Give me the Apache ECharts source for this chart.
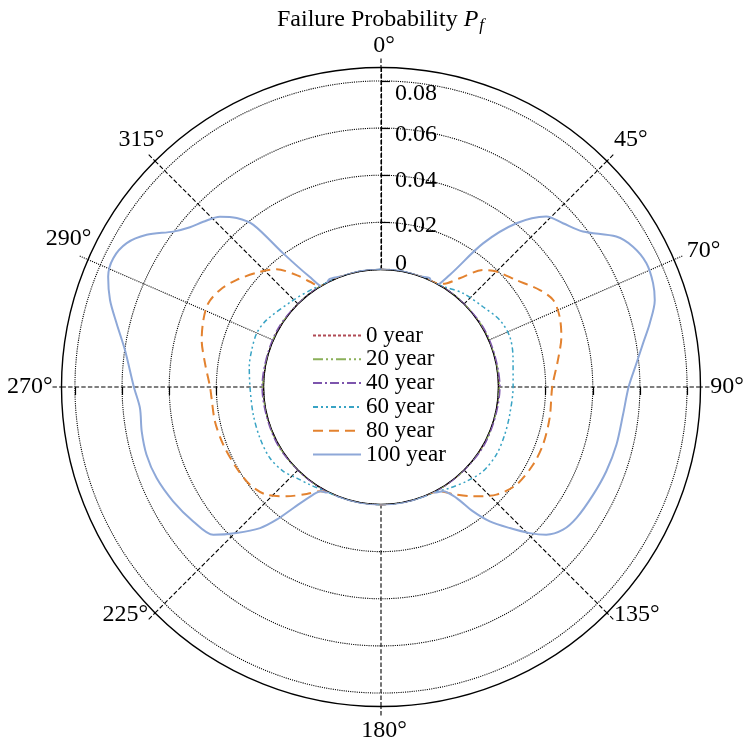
<!DOCTYPE html>
<html>
<head>
<meta charset="utf-8">
<script src="https://cdn.jsdelivr.net/npm/echarts@6/dist/echarts.min.js"></script>
<style>
html, body { margin: 0; padding: 0; background: #fff; }
#chart { width: 746px; height: 744px; }
</style>
</head>
<body>
<div id="chart"></div>
<script>
// Failure probability around the section, [angle in degrees, Pf]
const year0 = [[0,0],[30,0],[60,0],[90,0],[120,0],[150,0],[180,0],[210,0],[240,0],[270,0],[300,0],[330,0],[360,0]];
const year20 = [[0,0],[30,0],[60,0.0002],[90,0.0003],[120,0.0002],[150,0],[180,0],[210,0],[240,0.0002],[270,0.0003],[300,0.0002],[330,0],[360,0]];
const year40 = [[0,0],[30,0],[60,0.0004],[90,0.0006],[120,0.0004],[150,0.0001],[180,0],[210,0.0001],[240,0.0004],[270,0.0006],[300,0.0004],[330,0],[360,0]];
const year60 = [[0,0],[20,0],[30,0],[33,0.0006],[41.2,0.003],[51.8,0.0052],[60.6,0.008],[68.7,0.0088],[77.1,0.0076],[90,0.0062],
  [102.1,0.006],[111.1,0.0064],[120.4,0.0069],[129.6,0.0063],[137.9,0.0041],[145.8,0.002],[152,0.0004],[160,0],[180,0],
  [200,0],[208,0.0002],[216,0.0014],[222.8,0.0028],[229.2,0.0049],[237.4,0.0061],[247.1,0.0059],[257.8,0.0056],[269.5,0.0057],
  [278.8,0.0067],[286,0.0072],[293.4,0.0076],[300.4,0.0064],[314.8,0.0025],[325.6,0.0008],[332,0],[340,0],[360,0]];
const year80 = [[0,0],[20,0],[28,0],[31,0.0012],[35.9,0.0071],[41.1,0.016],[45,0.0194],[51.7,0.0233],[58.6,0.0291],[63.2,0.032],
  [68.5,0.0316],[74.4,0.0296],[81.3,0.0261],[90,0.0228],[100.4,0.0229],[109.6,0.0231],[117.1,0.0226],[125.8,0.021],[133,0.0171],
  [139.9,0.0108],[146.1,0.0049],[150,0.0013],[154,0],[180,0],[206,0],[210.3,0.0014],[214.8,0.0054],[220.8,0.0114],[226.7,0.0168],
  [233.3,0.0195],[240.7,0.0204],[249.9,0.0214],[258.3,0.0221],[266.3,0.0222],[270.1,0.0227],[277.7,0.0255],[284.7,0.0288],
  [290.7,0.0307],[295.9,0.0316],[301.1,0.0299],[306.6,0.0264],[313.6,0.021],[318.4,0.0169],[323,0.0096],[326,0.004],[329,0],[340,0],[360,0]];
const year100 = [[0,0],[10,0],[20,0],[24,0.0008],[27.5,-0.0022],[31.5,0.0059],[35.4,0.0249],[39.6,0.0403],[44.1,0.0509],[48,0.054],
  [52.4,0.0583],[57.4,0.0686],[60.9,0.0725],[65,0.0744],[69.1,0.0737],[72.4,0.072],[76.7,0.0673],[80.5,0.0629],[84.7,0.059],[90,0.0552],
  [96.5,0.0535],[103.8,0.053],[110.5,0.0522],[116.9,0.0511],[123.8,0.05],[128.1,0.0483],[131.8,0.0442],[134.5,0.0386],[137.6,0.0312],
  [141,0.0235],[143.5,0.0158],[145.8,0.007],[149.3,0.0016],[152.4,0.0006],[155,-0.0006],[158,0],[170,0],[180,0],[190,0],[202,0],
  [205,-0.0006],[207.6,0.0006],[210,0.0012],[212.2,0.0041],[215.9,0.0135],[218.2,0.0218],[220.6,0.029],[224.7,0.0373],[228.6,0.045],
  [234.4,0.0481],[241.2,0.0508],[247.9,0.0529],[253.9,0.0537],[259.5,0.0534],[265,0.0528],[270,0.055],[278.2,0.0599],[283.5,0.0655],
  [287.8,0.0709],[292,0.075],[295.7,0.0762],[299.5,0.0741],[303,0.0687],[306.8,0.0602],[309.9,0.0558],[312.9,0.0531],[316.6,0.0496],
  [319.5,0.0444],[321.8,0.0377],[323.8,0.0204],[327,0.006],[330.5,-0.0018],[334,0.0008],[340,0],[350,0],[360,0]];

const seriesNames = ['0 year', '20 year', '40 year', '60 year', '80 year', '100 year'];
const seriesData = [year0, year20, year40, year60, year80, year100];
const seriesColors = ['#b04a55', '#8bb05a', '#7d55ad', '#38a3c4', '#e3822f', '#8ea8d8'];
const seriesDash = [[3, 2], [10, 3, 2, 3, 2, 3], [9, 3, 2, 3], [5, 3, 2, 3, 2, 3], [10, 6], 'solid'];
const seriesWidth = [1.4, 1.5, 1.5, 1.5, 2, 2];

// Radial ticks and their labels
const radialTicks = [0, 0.02, 0.04, 0.06, 0.08];
const radialText = ['0', '0.02', '0.04', '0.06', '0.08'];
const radialMax = 0.0857;
// Angular gridlines and the text printed at each of them
const mainSpokes = [0, 45, 90, 135, 180, 225, 270, 315];
const minorSpokes = [66.5, 293.5];
const spokeAngles = [0, 45, 66.5, 90, 135, 180, 225, 270, 293.5, 315];
const spokeText = ['0°', '45°', '70°', '90°', '135°', '180°', '225°', '270°', '290°', '315°'];

const serif = 'Liberation Serif';
const center = [381, 387];
const ring = [117.5, 319.5];
const labelRadius = 0.097;
// small nudges for the angular labels
const spokeLabelOffset = [[3, 5], [5, -3], [5, 2], [0, 0], [11, -17], [3, -2], [-11, -17], [-5, 0], [5, -10], [5, -3]];
// nudges for the radial labels, placed beside the 0° axis
const radialLabelOffset = [[14, -6], [14, 3], [14, 5], [14, 7], [14, 13]];

const blankAngle = (idx, start) => ({
  polarIndex: idx, type: 'value', min: 0, max: 360, startAngle: start, clockwise: true,
  axisLine: { show: false }, axisTick: { show: false }, axisLabel: { show: false }, splitLine: { show: false }
});
const sideTicks = (idx, len) => ({
  polarIndex: idx, type: 'value', min: 0, max: radialMax,
  axisLine: { show: false },
  axisTick: { show: true, customValues: radialTicks, length: len, lineStyle: { color: '#000', width: 1.2 } },
  axisLabel: { show: false },
  splitLine: { show: false }
});

const chart = echarts.init(document.getElementById('chart'), null, { renderer: 'canvas' });

const lineSeries = seriesData.map((d, i) => ({
  name: seriesNames[i],
  type: 'line',
  coordinateSystem: 'polar',
  polarIndex: 0,
  data: d.map(p => [p[1], p[0]]),
  symbol: 'none',
  smooth: 0.3,
  clip: false,
  color: seriesColors[i],
  lineStyle: { color: seriesColors[i], width: seriesWidth[i], type: seriesDash[i] },
  z: 2 + i
}));

// text placed through the polar scales: angular labels and radial labels
const textSeries = (items, align) => ({
  type: 'scatter',
  coordinateSystem: 'polar',
  polarIndex: 0,
  silent: true,
  clip: false,
  symbolSize: 0,
  itemStyle: { opacity: 1 },
  data: items,
  label: {
    show: true, position: [0, 0], align: align, verticalAlign: 'middle',
    formatter: '{b}', fontFamily: serif, fontSize: 24, color: '#000', opacity: 1,
    textBorderWidth: 0
  },
  z: 10
});

const angleLabelSeries = textSeries(spokeAngles.map((a, i) => ({
  name: spokeText[i], value: [labelRadius, a], label: { offset: spokeLabelOffset[i] }
})), 'center');

const radialLabelSeries = textSeries(radialTicks.map((v, i) => ({
  name: radialText[i], value: [v, 0], label: { offset: radialLabelOffset[i] }
})), 'left');

chart.setOption({
  backgroundColor: '#fff',
  animation: false,
  title: {
    text: 'Failure Probability {p|P}{f|f}',
    left: 272,
    top: 1,
    textStyle: {
      fontFamily: serif, fontSize: 24, fontWeight: 'normal', color: '#000',
      rich: {
        p: { fontFamily: serif, fontSize: 24, fontStyle: 'italic', color: '#000' },
        f: { fontFamily: serif, fontSize: 17, fontStyle: 'italic', color: '#000', padding: [11, 0, 0, 1] }
      }
    }
  },
  legend: {
    orient: 'vertical',
    left: 312,
    top: 324,
    padding: 0,
    itemWidth: 48,
    itemHeight: 14,
    itemGap: 0.8,
    itemStyle: { opacity: 0 },
    textStyle: { fontFamily: serif, fontSize: 23, lineHeight: 23, color: '#000' },
    data: seriesNames
  },
  polar: [
    { center: center, radius: ring },
    { center: center, radius: ring },
    { center: center, radius: ring },
    { center: center, radius: ring }
  ],
  angleAxis: [
    {
      polarIndex: 0,
      type: 'value', min: 0, max: 360, startAngle: 90, clockwise: true,
      axisLine: { show: true, lineStyle: { color: '#000', width: 1.4 } },
      axisTick: { show: true, customValues: mainSpokes, length: 9, lineStyle: { color: '#000', type: 'dashed', width: 1.1 } },
      axisLabel: { show: false },
      splitLine: { show: true, lineStyle: { color: '#000', type: 'dashed', width: 1.1 } }
    },
    {
      polarIndex: 1,
      type: 'value', min: 0, max: 360, startAngle: 90, clockwise: true,
      axisLine: { show: false },
      axisTick: { show: true, customValues: minorSpokes, length: 9, lineStyle: { color: '#000', type: 'dotted', width: 1.1 } },
      axisLabel: { show: false },
      splitLine: { show: true, lineStyle: { color: '#000', type: 'dotted', width: 1.1 } }
    },
    blankAngle(2, 0),
    blankAngle(3, 180)
  ],
  radiusAxis: [
    {
      polarIndex: 0,
      type: 'value', min: 0, max: radialMax, interval: 0.02,
      axisLine: { show: true, lineStyle: { color: '#000', type: 'dashed', width: 1.1 } },
      axisTick: { show: true, customValues: radialTicks, length: -9, lineStyle: { color: '#000', width: 1.2 } },
      axisLabel: { show: false },
      splitLine: { show: true, lineStyle: { color: '#000', type: 'dotted', width: 1.1 } },
      z: 3
    },
    { polarIndex: 1, type: 'value', min: 0, max: radialMax, show: false },
    sideTicks(2, -8),
    sideTicks(3, 8)
  ],
  series: lineSeries.concat([angleLabelSeries, radialLabelSeries])
});
</script>
</body>
</html>
